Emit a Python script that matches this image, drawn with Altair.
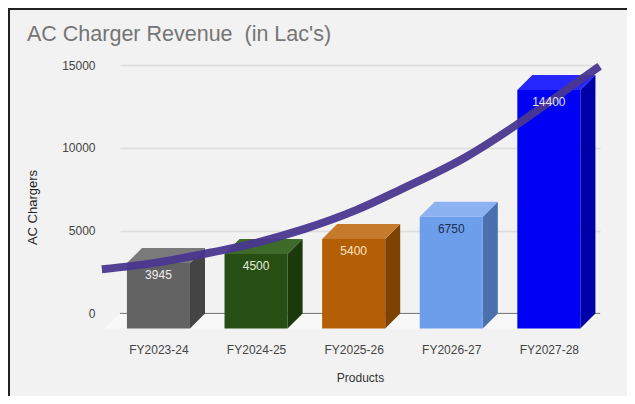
import json
import altair as alt
import pandas as pd

# ---- data ----
categories = ["FY2023-24", "FY2024-25", "FY2025-26", "FY2026-27", "FY2027-28"]
revenue = [3945, 4500, 5400, 6750, 14400]

# trend line (category position, value)
trend_pos = [-0.58, -0.02, 0.46, 1.01, 1.49, 2.03, 2.47, 3.16, 3.67, 4.18, 4.52]
trend_val = [2670, 3070, 3590, 4280, 5090, 6250, 7450, 9480, 11390, 13510, 14920]

y_ticks = [0, 5000, 10000, 15000]

# ---- styles ----
front_colors = ["#636363", "#274e13", "#b45f06", "#6d9eeb", "#0000f5"]
side_colors = ["#444444", "#1a3a0b", "#7d4204", "#4a70ad", "#0000a8"]
top_colors = ["#7a7a7a", "#3e6a2a", "#c67a2c", "#8cb2f2", "#2626ff"]
label_colors = ["#eeeeee", "#e3ecd9", "#fde3c3", "#1d2f4f", "#e4e4ff"]

FONT = "Liberation Sans"
DX = 0.154     # depth of the 3D boxes in category units
DY = 906       # depth of the 3D boxes in value units
HALF = 0.323   # half width of a bar front
XDOM = [-0.394, 4.524]
YDOM = [-1000, 15000]
W, H = 480, 265

xs = alt.Scale(domain=XDOM, nice=False, zero=False)
ys = alt.Scale(domain=YDOM, nice=False, zero=False)

front_rows, side_rows, top_rows = [], [], []
for i, (c, v) in enumerate(zip(categories, revenue)):
    front_rows.append(dict(cat=c, x=i - HALF, x2=i + HALF, y=-DY, y2=v - DY,
                           xc=i, color=front_colors[i], lcolor=label_colors[i], v=v))
    side_rows.append(dict(cat=c, x=i + HALF, y=v - DY, y2=-DY, color=side_colors[i]))
    side_rows.append(dict(cat=c, x=i + HALF + DX, y=v, y2=0, color=side_colors[i]))
    top_rows.append(dict(cat=c, y=v - DY, x=i - HALF, x2=i + HALF, color=top_colors[i]))
    top_rows.append(dict(cat=c, y=v, x=i - HALF + DX, x2=i + HALF + DX, color=top_colors[i]))

front = pd.DataFrame(front_rows)
side = pd.DataFrame(side_rows)
top = pd.DataFrame(top_rows)
trend = pd.DataFrame({"x": trend_pos, "y": trend_val})
floor = pd.DataFrame({"y": [-DY, 0], "x": [XDOM[0] - DX, XDOM[0]], "x2": [XDOM[1] - DX, XDOM[1]]})
one = pd.DataFrame({"a": [0]})

label_expr = json.dumps(categories) + "[datum.value]"

x_axis = alt.Axis(values=list(range(len(categories))), labelExpr=label_expr, grid=False,
                  ticks=False, domain=False, labelPadding=14, labelFontSize=12,
                  labelColor="#444444", labelFont=FONT, title="Products",
                  titleFontSize=12, titleFont=FONT, titleFontWeight="normal",
                  titleColor="#333333", titlePadding=17)
y_axis = alt.Axis(values=y_ticks, format="d", grid=True, gridColor="#dcdcdc", gridWidth=1.5,
                  ticks=False, domain=False, labelPadding=25, labelFontSize=12,
                  labelColor="#444444", labelFont=FONT, title="AC Chargers",
                  titleFontSize=13, titleFont=FONT, titleFontWeight="normal",
                  titleColor="#222222", titleX=-81, titleY=142)

base_layer = alt.Chart(front).mark_bar(opacity=0).encode(
    x=alt.X("x:Q", scale=xs, axis=x_axis),
    x2="x2:Q",
    y=alt.Y("y:Q", scale=ys, axis=y_axis),
    y2="y2:Q",
)

floor_layer = alt.Chart(floor).mark_area(orient="horizontal", color="#f8f8f8").encode(
    y=alt.Y("y:Q", scale=ys),
    x=alt.X("x:Q", scale=xs),
    x2="x2:Q",
)

baseline = alt.Chart(one).mark_rule(color="#777777", strokeWidth=1).encode(
    y=alt.Y(datum=0, scale=ys),
    x=alt.value(0), x2=alt.value(W),
)

side_layer = alt.Chart(side).mark_area(orient="vertical").encode(
    x=alt.X("x:Q", scale=xs),
    y=alt.Y("y:Q", scale=ys),
    y2="y2:Q",
    detail="cat:N",
    color=alt.Color("color:N", scale=None),
)

top_layer = alt.Chart(top).mark_area(orient="horizontal").encode(
    y=alt.Y("y:Q", scale=ys),
    x=alt.X("x:Q", scale=xs),
    x2="x2:Q",
    detail="cat:N",
    color=alt.Color("color:N", scale=None),
)

front_layer = alt.Chart(front).mark_bar().encode(
    x=alt.X("x:Q", scale=xs),
    x2="x2:Q",
    y=alt.Y("y:Q", scale=ys),
    y2="y2:Q",
    color=alt.Color("color:N", scale=None),
)

labels = alt.Chart(front).mark_text(baseline="middle", dy=12, fontSize=12, font=FONT).encode(
    x=alt.X("xc:Q", scale=xs),
    y=alt.Y("y2:Q", scale=ys),
    text=alt.Text("v:Q", format="d"),
    color=alt.Color("lcolor:N", scale=None),
)

trend_layer = alt.Chart(trend).mark_line(color="#4a3790", strokeWidth=8, opacity=0.95,
                                          interpolate="monotone").encode(
    x=alt.X("x:Q", scale=xs),
    y=alt.Y("y:Q", scale=ys),
)

border_left = alt.Chart(one).mark_rule(color="#222222", strokeWidth=2).encode(
    x=alt.value(-111), y=alt.value(-57), y2=alt.value(H + 66),
)
border_top = alt.Chart(one).mark_rule(color="#222222", strokeWidth=2).encode(
    y=alt.value(-56), x=alt.value(-112), x2=alt.value(W + 27),
)

chart = alt.layer(
    base_layer, floor_layer, baseline, side_layer, top_layer, front_layer,
    trend_layer, labels, border_left, border_top,
).properties(
    width=W, height=H,
    title=alt.TitleParams(text="AC Charger Revenue\u00a0 (in Lac's)", anchor="start",
                          frame="group", baseline="alphabetic",
                          fontSize=21.5, font=FONT, color="#757575", fontWeight="normal",
                          dx=-93, offset=-55),
    autosize=alt.AutoSizeParams(type="none"),
    padding={"left": 112, "right": 27, "top": 57, "bottom": 66},
    background="#f2f2f2",
).configure_view(stroke=None)

chart.save("out.html", embed_options={"renderer": "svg", "actions": False})
